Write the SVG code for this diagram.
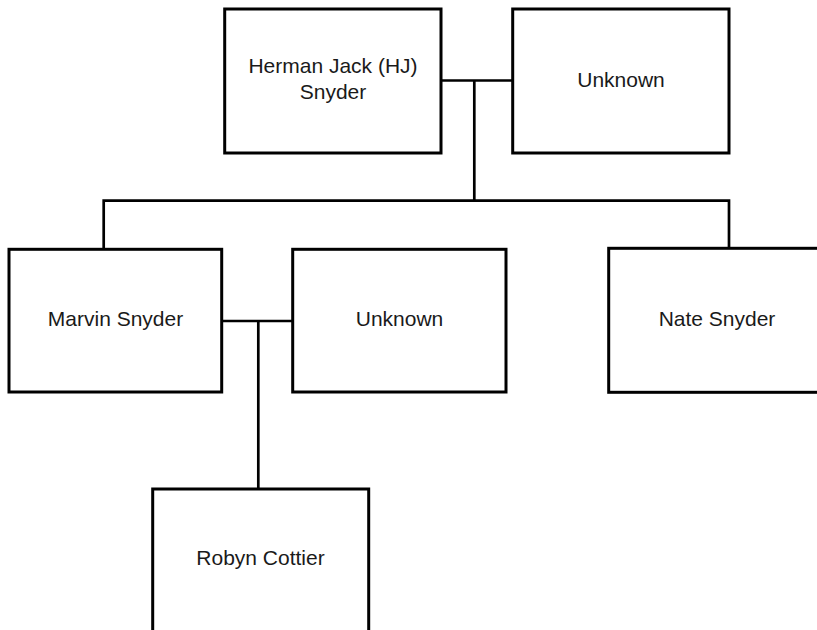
<svg xmlns="http://www.w3.org/2000/svg" width="817" height="630" viewBox="0 0 817 630">
  <style>
    .box { fill: #ffffff; stroke: #000000; stroke-width: 3; }
    .lbl { font-family: "Liberation Sans", Arial, sans-serif; font-size: 21px; fill: #1a1a1a; text-anchor: middle; }
    .conn { fill: none; stroke: #000000; stroke-width: 2.7; }
  </style>
  <rect width="817" height="630" fill="#ffffff"/>
  <g id="connectors">
    <path class="conn" d="M441,80.5 H512.7"/>
    <path class="conn" d="M474.3,80.5 V200.7"/>
    <path class="conn" d="M103.7,249.3 V200.7 H729 V248.3"/>
    <path class="conn" d="M221.7,321 H292.7"/>
    <path class="conn" d="M258.3,321 V489"/>
  </g>
  <g id="hj">
    <rect class="box" x="224.7" y="9" width="216.3" height="144"/>
    <text class="lbl" x="333" y="73">Herman Jack (HJ)</text>
    <text class="lbl" x="333" y="98.5">Snyder</text>
  </g>
  <g id="unknown1">
    <rect class="box" x="512.7" y="9" width="216.3" height="144"/>
    <text class="lbl" x="621" y="87">Unknown</text>
  </g>
  <g id="marvin">
    <rect class="box" x="9" y="249.3" width="212.7" height="142.7"/>
    <text class="lbl" x="115.5" y="326">Marvin Snyder</text>
  </g>
  <g id="unknown2">
    <rect class="box" x="292.7" y="249.3" width="213.3" height="142.7"/>
    <text class="lbl" x="399.5" y="326">Unknown</text>
  </g>
  <g id="nate">
    <rect class="box" x="608.7" y="248.3" width="216.3" height="144"/>
    <text class="lbl" x="717" y="325.5">Nate Snyder</text>
  </g>
  <g id="robyn">
    <rect class="box" x="152.7" y="489" width="216" height="160"/>
    <text class="lbl" x="260.5" y="565">Robyn Cottier</text>
  </g>
</svg>
